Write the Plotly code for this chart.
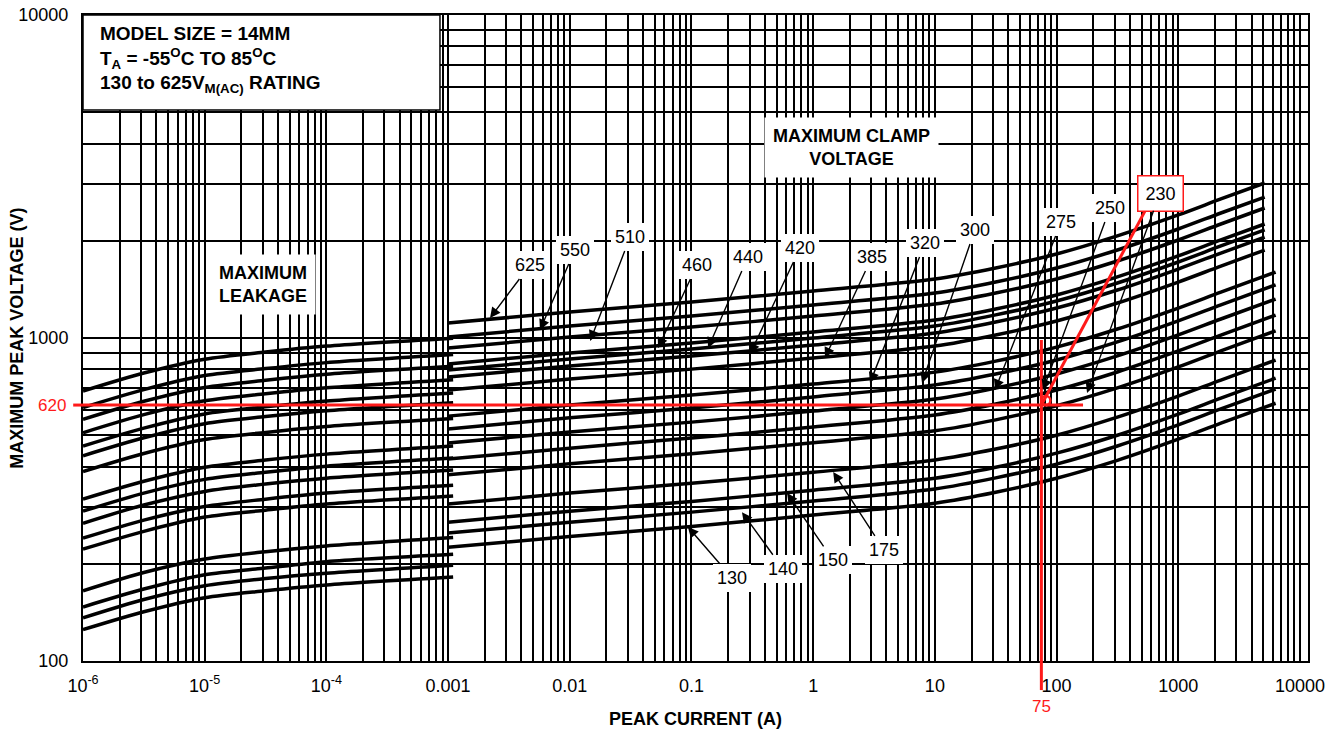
import math
import plotly.graph_objects as go

# ---------------- data ----------------
RATINGS = [625, 550, 510, 460, 440, 420, 385, 320, 300, 275, 250, 230, 175, 150, 140, 130]

# Maximum leakage region (current in A)
LEAK_X = [1e-6, 3.16e-6, 1e-5, 3.16e-5, 1e-4, 1.1e-3]
LEAK_625 = [685, 779, 860, 905, 944, 999]
LEAK_550 = [609, 692, 765, 804, 839, 889]
LEAK_510 = [560, 637, 703, 740, 772, 817]
LEAK_460 = [509, 579, 639, 672, 701, 743]
LEAK_440 = [463, 526, 582, 612, 638, 676]
LEAK_420 = [432, 491, 543, 571, 595, 630]
LEAK_385 = [386, 439, 485, 510, 532, 563]
LEAK_320 = [317, 360, 398, 419, 437, 463]
LEAK_300 = [291, 331, 365, 384, 401, 425]
LEAK_275 = [267, 304, 335, 353, 368, 390]
LEAK_250 = [240, 273, 301, 317, 331, 350]
LEAK_230 = [222, 252, 279, 293, 306, 324]
LEAK_175 = [165, 188, 207, 218, 227, 241]
LEAK_150 = [147, 167, 185, 194, 203, 214]
LEAK_140 = [136, 155, 171, 180, 187, 198]
LEAK_130 = [125, 142, 157, 165, 172, 182]

# Maximum clamp voltage region
CLAMP_X_HI = [0.001, 0.01, 0.1, 1, 10, 31.6, 100, 316, 1000, 2240, 5130]
CLAMP_X_LO = [0.001, 0.01, 0.1, 1, 10, 31.6, 100, 316, 1000, 2240, 6310]
CLAMP_625 = [1113, 1204, 1293, 1398, 1523, 1648, 1820, 2070, 2404, 2694, 3019]
CLAMP_550 = [1007, 1089, 1170, 1265, 1378, 1491, 1647, 1873, 2175, 2438, 2732]
CLAMP_510 = [931, 1007, 1081, 1170, 1274, 1378, 1523, 1731, 2011, 2254, 2526]
CLAMP_460 = [831, 899, 965, 1044, 1137, 1230, 1359, 1546, 1795, 2012, 2254]
CLAMP_440 = [796, 861, 925, 1000, 1089, 1179, 1302, 1480, 1719, 1927, 2160]
CLAMP_420 = [757, 819, 879, 951, 1036, 1121, 1238, 1408, 1635, 1832, 2054]
CLAMP_385 = [690, 746, 801, 867, 944, 1022, 1129, 1283, 1490, 1670, 1872]
CLAMP_320 = [573, 620, 666, 720, 784, 848, 937, 1066, 1238, 1387, 1599]
CLAMP_300 = [523, 566, 607, 657, 716, 774, 855, 973, 1130, 1266, 1460]
CLAMP_275 = [473, 512, 549, 594, 647, 700, 774, 880, 1022, 1145, 1320]
CLAMP_250 = [422, 456, 490, 530, 578, 625, 690, 785, 912, 1021, 1178]
CLAMP_230 = [377, 408, 438, 474, 516, 558, 617, 701, 814, 913, 1052]
CLAMP_175 = [306, 331, 355, 384, 419, 453, 500, 569, 661, 741, 854]
CLAMP_150 = [269, 291, 312, 338, 368, 398, 440, 500, 581, 651, 751]
CLAMP_140 = [249, 269, 289, 313, 341, 369, 407, 463, 538, 603, 695]
CLAMP_130 = [225, 243, 261, 283, 308, 333, 368, 418, 486, 545, 628]

LEAK_CURVES = [LEAK_625, LEAK_550, LEAK_510, LEAK_460, LEAK_440, LEAK_420, LEAK_385,
               LEAK_320, LEAK_300, LEAK_275, LEAK_250, LEAK_230,
               LEAK_175, LEAK_150, LEAK_140, LEAK_130]
CLAMP_CURVES = [CLAMP_625, CLAMP_550, CLAMP_510, CLAMP_460, CLAMP_440, CLAMP_420, CLAMP_385,
                CLAMP_320, CLAMP_300, CLAMP_275, CLAMP_250, CLAMP_230,
                CLAMP_175, CLAMP_150, CLAMP_140, CLAMP_130]

# Rating labels: arrow tip (current, voltage) and label position
LABEL_TEXT = ["625", "550", "510", "460", "440", "420", "385", "320", "300", "275", "250", "230",
              "130", "140", "150", "175"]
TIP_I = [0.00221, 0.00569, 0.0147, 0.0531, 0.137, 0.303, 1.25, 2.93, 7.84, 31.2, 77.3, 178,
         0.0935, 0.260, 0.610, 1.46]
TIP_V = [1153, 1059, 979, 931, 931, 892, 867, 726, 726, 690, 690, 676,
         260, 289, 331, 385]
LAB_I = [0.00471, 0.0110, 0.0313, 0.111, 0.291, 0.780, 3.04, 8.30, 21.3, 109, 275, 708,
         0.215, 0.565, 1.46, 3.82]
LAB_V = [1683, 1873, 2055, 1683, 1782, 1899, 1782, 1969, 2160, 2287, 2527, 2811,
         181, 193, 205, 221]

# Worked example (red)
MARK_I = 75
MARK_V = 620
MARK_I_END = 165     # right end of horizontal red line
MARK_V_TOP = 985     # top end of vertical red line
LINK_I = 560         # red link to the boxed 230 label
LINK_V = 2560

X_TICKS = [1e-6, 1e-5, 1e-4, 1e-3, 1e-2, 1e-1, 1, 10, 100, 1000, 10000]
X_TICKTEXT = ["10<sup>-6</sup>", "10<sup>-5</sup>", "10<sup>-4</sup>", "0.001", "0.01", "0.1",
              "1", "10", "100", "1000", "10000"]
Y_TICKS = [100, 1000, 10000]
Y_TICKTEXT = ["100", "1000", "10000"]

FONT = "Liberation Sans, Arial, sans-serif"
RED = "#ff1a1a"

# ---------------- figure ----------------
fig = go.Figure()

for r, lk, cl in zip(RATINGS, LEAK_CURVES, CLAMP_CURVES):
    fig.add_trace(go.Scatter(x=LEAK_X, y=lk, mode="lines",
                             line=dict(color="black", width=3.5, shape="spline", smoothing=0.8),
                             hoverinfo="skip", showlegend=False))
    cx = CLAMP_X_HI if r >= 385 else CLAMP_X_LO
    fig.add_trace(go.Scatter(x=cx, y=cl, mode="lines",
                             line=dict(color="black", width=3.5, shape="spline", smoothing=0.8),
                             hoverinfo="skip", showlegend=False))

# red worked example lines
fig.add_trace(go.Scatter(x=[X_TICKS[0], MARK_I_END], y=[MARK_V, MARK_V], mode="lines",
                         line=dict(color=RED, width=3), hoverinfo="skip", showlegend=False))
fig.add_trace(go.Scatter(x=[MARK_I, MARK_I], y=[Y_TICKS[0], MARK_V_TOP], mode="lines",
                         line=dict(color=RED, width=3), hoverinfo="skip", showlegend=False))
fig.add_trace(go.Scatter(x=[MARK_I, LINK_I], y=[MARK_V, LINK_V], mode="lines",
                         line=dict(color=RED, width=3), hoverinfo="skip", showlegend=False))

shapes = [
    # stubs outside the plot area
    dict(type="line", xref="paper", x0=-0.008, x1=0, yref="y", y0=MARK_V, y1=MARK_V,
         line=dict(color=RED, width=3)),
    dict(type="line", xref="x", x0=MARK_I, x1=MARK_I, yref="paper", y0=-0.045, y1=0,
         line=dict(color=RED, width=3)),
    dict(type="circle", xref="x", yref="y", xsizemode="pixel", ysizemode="pixel",
         xanchor=MARK_I, yanchor=MARK_V, x0=-9, x1=9, y0=-9, y1=9,
         line=dict(color=RED, width=2.5)),
    # white info box in the upper-left corner
    dict(type="rect", xref="paper", yref="paper", x0=0, x1=0.2914, y0=0.853, y1=1,
         fillcolor="white", line=dict(color="black", width=1.5), layer="above"),
]

annotations = []
for t, ti, tv, li, lv in zip(LABEL_TEXT, TIP_I, TIP_V, LAB_I, LAB_V):
    boxed = (t == "230")
    annotations.append(dict(
        x=math.log10(ti), y=math.log10(tv), xref="x", yref="y",
        ax=math.log10(li), ay=math.log10(lv), axref="x", ayref="y",
        text=t, showarrow=True, arrowhead=2, arrowsize=1.5, arrowwidth=1.4,
        arrowcolor="black", standoff=0,
        font=dict(family=FONT, size=18, color="black"),
        bgcolor="white",
        bordercolor=RED if boxed else "rgba(0,0,0,0)",
        borderwidth=1.5 if boxed else 0,
        borderpad=7 if boxed else 4,
    ))

annotations += [
    dict(xref="paper", yref="paper", x=0.0122, y=0.99, xanchor="left", yanchor="top",
         text="<b>MODEL SIZE = 14MM<br>T<sub>A</sub> = -55<sup>O</sup>C TO 85<sup>O</sup>C<br>"
              "130 to 625V<sub>M(AC)</sub> RATING</b>",
         showarrow=False, align="left",
         font=dict(family=FONT, size=19, color="black")),
    dict(xref="x", yref="y", x=math.log10(3.0e-5), y=math.log10(1460),
         text="<b>MAXIMUM<br>LEAKAGE</b>", showarrow=False, bgcolor="white", borderpad=8,
         font=dict(family=FONT, size=18, color="black")),
    dict(xref="x", yref="y", x=math.log10(2.05), y=math.log10(3900),
         text="<b>MAXIMUM CLAMP<br>VOLTAGE</b>", showarrow=False, bgcolor="white", borderpad=8,
         font=dict(family=FONT, size=18, color="black")),
    dict(xref="paper", yref="y", x=-0.012, y=math.log10(MARK_V), xanchor="right",
         text=str(MARK_V), showarrow=False, font=dict(family=FONT, size=17, color=RED)),
    dict(xref="x", yref="paper", x=math.log10(MARK_I), y=-0.052, yanchor="top",
         text=str(MARK_I), showarrow=False, font=dict(family=FONT, size=17, color=RED)),
    # y axis title
    dict(xref="paper", yref="paper", x=-0.054, y=0.5, xanchor="center", yanchor="middle",
         text="<b>MAXIMUM PEAK VOLTAGE (V)</b>", textangle=-90, showarrow=False,
         font=dict(family=FONT, size=18, color="black")),
]

x_minor = [k * 10.0 ** d for d in range(-6, 4) for k in range(2, 10)]
y_minor = [k * 10.0 ** d for d in range(2, 4) for k in range(2, 10)]

fig.update_layout(
    width=1329, height=734,
    margin=dict(l=83, r=21, t=15, b=73),
    paper_bgcolor="white", plot_bgcolor="white",
    font=dict(family=FONT, size=18, color="black"),
    shapes=shapes, annotations=annotations,
    xaxis=dict(type="log", range=[-6, 4.066], tickvals=X_TICKS, ticktext=X_TICKTEXT,
               automargin=False, ticklabeloverflow="allow",
               showgrid=True, gridcolor="black", gridwidth=1.8,
               minor=dict(tickvals=x_minor, showgrid=True, gridcolor="black", gridwidth=1.8),
               showline=True, linecolor="black", linewidth=2, mirror=True,
               ticks="", zeroline=False, ticklabelstandoff=7,
               tickfont=dict(family=FONT, size=18, color="black"),
               title=dict(text="<b>PEAK CURRENT (A)</b>", standoff=18,
                          font=dict(family=FONT, size=18, color="black"))),
    yaxis=dict(type="log", range=[2, 4], tickvals=Y_TICKS, ticktext=Y_TICKTEXT,
               automargin=False, ticklabeloverflow="allow",
               showgrid=True, gridcolor="black", gridwidth=1.8,
               minor=dict(tickvals=y_minor, showgrid=True, gridcolor="black", gridwidth=1.8),
               showline=True, linecolor="black", linewidth=2, mirror=True,
               ticks="", zeroline=False, ticklabelstandoff=9,
               tickfont=dict(family=FONT, size=18, color="black")),
)

# remove the browser's default 8px page margin so the figure sits at the window origin
fig.write_html("out.html",
               config={"displayModeBar": False},
               post_script="document.body.style.margin='0';document.body.style.overflow='hidden';")
